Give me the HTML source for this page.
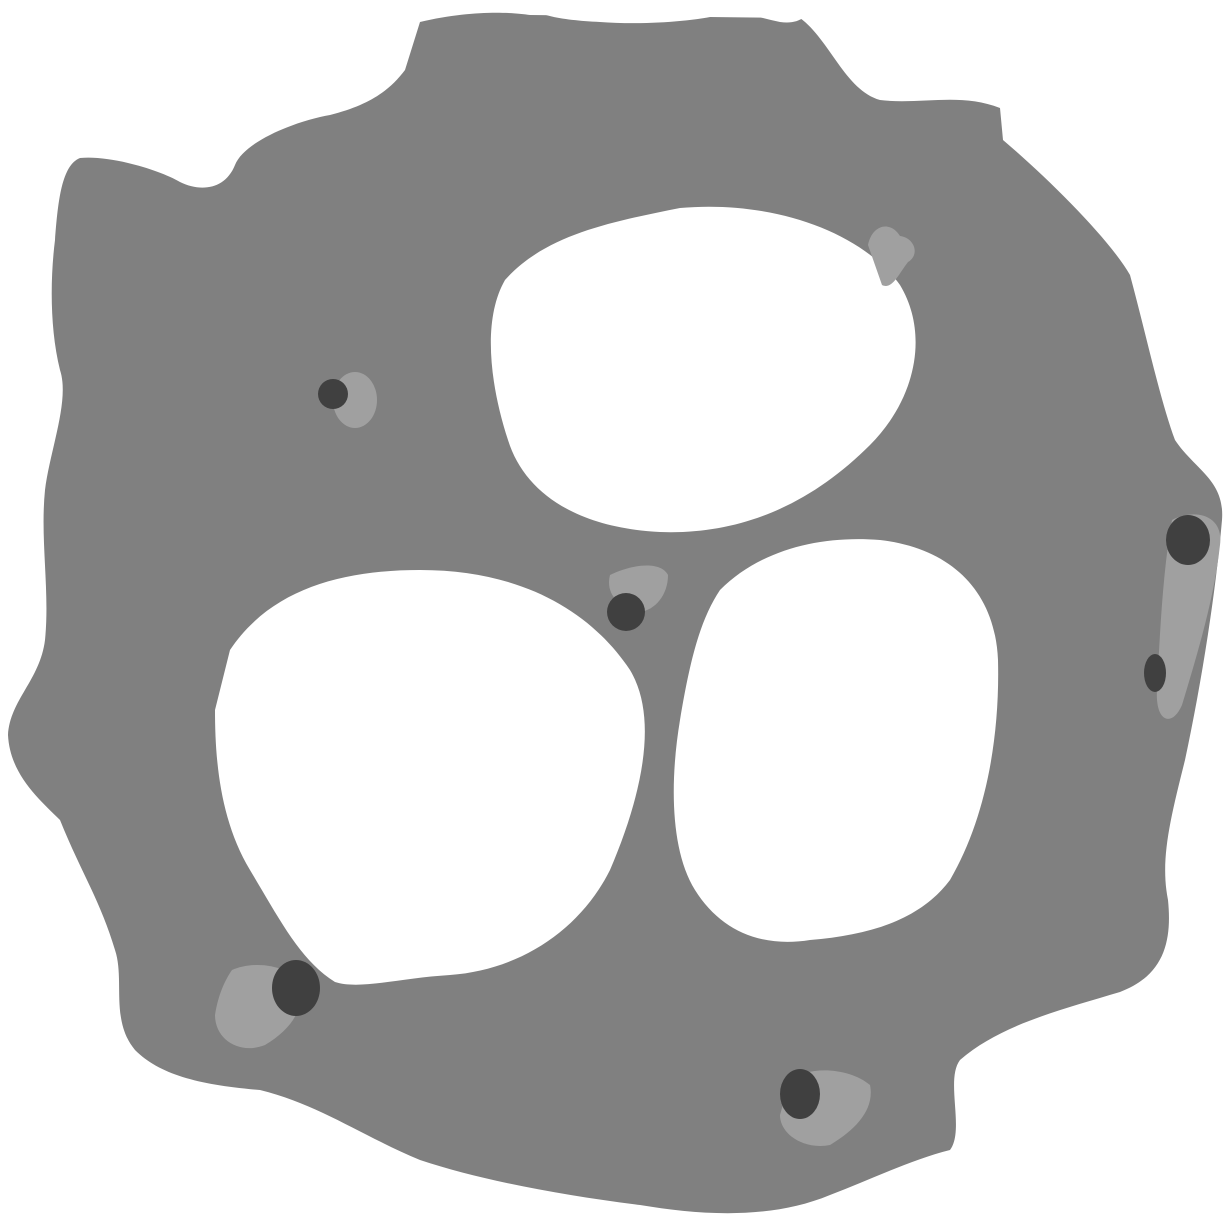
<!DOCTYPE html>
<html><head><meta charset="utf-8"><style>html,body{margin:0;padding:0;background:#fff}svg{display:block}</style></head>
<body>
<svg width="1232" height="1232" viewBox="0 0 1232 1232">
<rect width="1232" height="1232" fill="#fff"/>
<path fill="#808080" d="M420,22 C470,10 510,12 530,15 L800,18 C830,40 845,90 880,100 C920,105 960,92 1000,108 L1003,140 C1050,180 1110,240 1130,275 C1145,330 1160,400 1175,440 C1195,470 1225,480 1222,520 C1215,600 1200,690 1185,760 C1170,820 1160,860 1168,900 C1172,940 1165,975 1120,992 C1060,1010 1000,1025 960,1060 C945,1080 965,1130 950,1150 C910,1160 870,1180 830,1195 C770,1220 700,1215 640,1205 C560,1195 480,1180 420,1160 C360,1135 320,1105 260,1090 C200,1085 160,1075 135,1050 C110,1020 125,980 115,950 C100,900 80,870 60,820 C40,800 10,775 8,735 C10,700 40,680 45,640 C50,590 40,540 45,490 C50,450 70,400 60,370 C50,330 50,280 55,240 C58,200 62,165 80,158 C110,155 160,170 180,182 C200,192 225,190 235,165 C245,140 300,120 330,115 C370,105 390,90 405,70 Z"/>
<path fill="#fff" d="M525,0 L810,0 C812,15 800,25 780,22 C760,18 740,10 720,15 C690,22 640,25 600,22 C560,20 530,15 525,0 Z"/>
<path fill="#fff" d="M505,280 C545,235 610,222 680,208 C770,200 860,230 900,285 C930,335 915,400 870,445 C810,505 740,535 660,532 C580,528 525,495 508,440 C490,385 482,320 505,280 Z"/>
<path fill="#fff" d="M230,650 C270,590 340,570 420,570 C520,570 590,610 630,670 C660,720 640,800 610,870 C580,930 520,970 450,975 C400,978 360,990 335,982 C300,960 280,920 250,870 C220,820 215,760 215,710 Z"/>
<path fill="#fff" d="M720,590 C760,550 820,535 880,540 C950,548 995,590 998,660 C1000,740 985,820 950,880 C920,920 870,935 810,940 C760,948 720,930 695,890 C670,850 670,780 680,720 C690,660 700,620 720,590 Z"/>
<g fill="#a0a0a0">
<path d="M868,245 C872,225 890,220 900,236 C915,238 920,255 908,262 C898,275 892,290 882,285 Z"/>
<ellipse cx="355" cy="400" rx="22" ry="28"/>
<path d="M610,575 C630,565 660,560 668,575 C668,595 655,610 640,612 C620,608 605,595 610,575 Z"/>
<path d="M1172,520 C1195,508 1224,515 1220,545 C1214,600 1197,655 1182,705 C1172,728 1155,722 1157,690 C1160,630 1163,570 1172,520 Z"/>
<path d="M232,970 C255,960 290,965 300,985 C305,1010 290,1030 265,1045 C240,1055 215,1040 215,1015 C218,995 225,980 232,970 Z"/>
<path d="M790,1080 C810,1065 850,1068 870,1085 C875,1110 855,1130 830,1145 C805,1150 780,1135 780,1115 Z"/>
</g>
<g fill="#404040">
<circle cx="333" cy="394" r="15"/>
<circle cx="626" cy="612" r="19"/>
<ellipse cx="1188" cy="540" rx="22" ry="25"/>
<ellipse cx="1155" cy="673" rx="11" ry="19"/>
<ellipse cx="296" cy="988" rx="24" ry="28"/>
<ellipse cx="800" cy="1094" rx="20" ry="25"/>
</g>
</svg>
</body></html>
